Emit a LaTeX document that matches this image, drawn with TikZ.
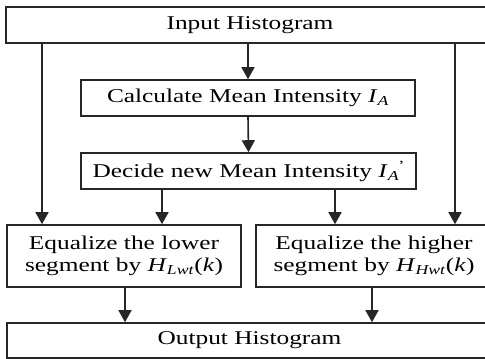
\documentclass[tikz,border=0pt]{standalone}
\usepackage{fontspec}
\setmainfont[FakeStretch=1.3]{Liberation Serif}
\usetikzlibrary{arrows.meta}
\begin{document}
\begin{tikzpicture}[x=1pt,y=-1pt,
  box/.style={draw=black!85,line width=1.6pt,rectangle,inner sep=0pt,align=center,
    font=\fontsize{19.5}{22}\selectfont},
  arr/.style={draw=black!85,line width=1.6pt,-{Triangle[width=13pt,length=12pt]}}]
\useasboundingbox (0,0) rectangle (485,359);
\clip (0,0) rectangle (485,359);
\node[box,minimum width=488pt,minimum height=36pt] (top) at (250,25) {Input Histogram};
\node[box,minimum width=334pt,minimum height=36pt] (calc) at (248,98) {Calculate Mean Intensity \textit{I}\textsubscript{\textit{A}}};
\node[box,minimum width=335pt,minimum height=36pt] (dec) at (248.5,171) {Decide new Mean Intensity \textit{I}\textsubscript{\textit{A}}\kern-1pt\raisebox{7pt}{\fontsize{14}{14}\selectfont’}};
\node[box,minimum width=234pt,minimum height=62pt] (low) at (124,256) {Equalize the lower\\segment by \textit{H}\textsubscript{\textit{Lwt}}(\textit{k})};
\node[box,minimum width=236pt,minimum height=62pt] (high) at (374,256) {Equalize the higher\\segment by \textit{H}\textsubscript{\textit{Hwt}}(\textit{k})};
\node[box,minimum width=485pt,minimum height=35pt] (out) at (249.5,340.5) {Output Histogram};
\coordinate (xl) at (42,0);
\coordinate (xr) at (455,0);
\coordinate (xd1) at (162,0);
\coordinate (xd2) at (335,0);
\coordinate (xo1) at (125,0);
\coordinate (xo2) at (372,0);
\draw[arr] (calc.north |- top.south) -- (calc.north);
\draw[arr] (calc.south) -- (dec.north);
\draw[arr] (xl |- top.south) -- (xl |- low.north);
\draw[arr] (xr |- top.south) -- (xr |- high.north);
\draw[arr] (xd1 |- dec.south) -- (xd1 |- low.north);
\draw[arr] (xd2 |- dec.south) -- (xd2 |- high.north);
\draw[arr] (xo1 |- low.south) -- (xo1 |- out.north);
\draw[arr] (xo2 |- high.south) -- (xo2 |- out.north);
\end{tikzpicture}
\end{document}
